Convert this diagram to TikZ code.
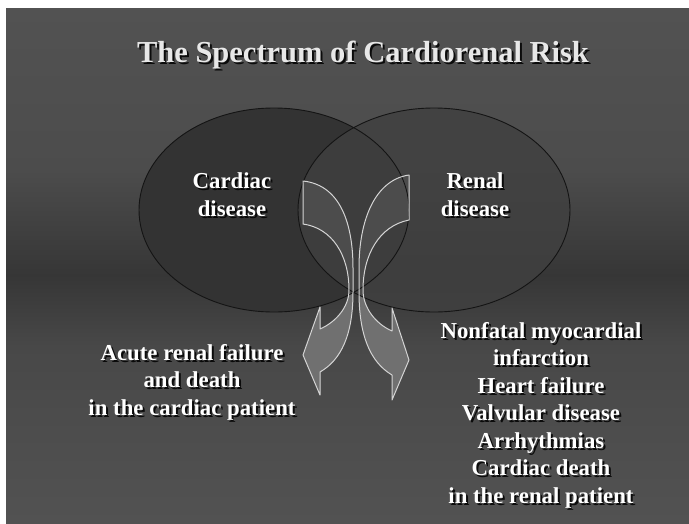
\documentclass[tikz,border=0pt]{standalone}
\usepackage{fontspec}
\setmainfont{Liberation Serif}
\definecolor{bgA}{RGB}{82,82,82}
\definecolor{bgB}{RGB}{76,76,76}
\definecolor{bgC}{RGB}{54,54,54}
\definecolor{bgD}{RGB}{72,72,72}
\definecolor{bgE}{RGB}{82,82,82}
\definecolor{ellL}{RGB}{51,51,51}
\definecolor{ellR}{RGB}{64,64,64}
\definecolor{arrfill}{RGB}{112,112,112}
\definecolor{arrinL}{RGB}{68,68,68}
\definecolor{arrinR}{RGB}{76,76,76}
\definecolor{arredge}{RGB}{212,212,212}
\definecolor{titlegray}{RGB}{232,232,232}
\def\pathL{(303,181) .. controls (341,185) and (353,225) .. (353,268)
  -- (353,292) .. controls (353,335) and (341,360) .. (320,372)
  -- (320,395) -- (303,355) -- (320,307) -- (320,329)
  .. controls (336,322) and (349,307) .. (349,290)
  .. controls (349,255) and (332,228) .. (303,224) -- cycle}
\def\pathR{(409,175) .. controls (375,180) and (359,220) .. (359,268)
  -- (359,292) .. controls (359,335) and (370,362) .. (392,375)
  -- (392,400) -- (409,360) -- (392,308) -- (392,331)
  .. controls (376,324) and (363,308) .. (363,290)
  .. controls (363,255) and (379,226) .. (409,220) -- cycle}
\begin{document}
\begin{tikzpicture}[x=1pt,y=-1pt,
  txt/.style={font=\bfseries\fontsize{22.8}{27.5}\selectfont, align=center, inner sep=0pt, anchor=base, text=white},
  shd/.style={text=black, text opacity=0.85},
  ttl/.style={font=\bfseries\fontsize{30.5}{36}\selectfont, inner sep=0pt, anchor=base, text=titlegray},
  arrline/.style={draw=arredge, line width=1pt, line join=round},
  ellline/.style={draw=black!92, line width=0.9pt}]
\useasboundingbox (0,0) rectangle (689,523);
\fill[white] (0,0) rectangle (689,523);
% background bands
\shade[top color=bgA, bottom color=bgB] (6,8) rectangle (689,171);
\shade[top color=bgB, bottom color=bgC] (6,170) rectangle (689,276);
\shade[top color=bgC, bottom color=bgD] (6,275) rectangle (689,346);
\shade[top color=bgD, bottom color=bgE] (6,345) rectangle (689,523);
% ellipses
\fill[ellL] (274,210) ellipse [x radius=135, y radius=102];
\fill[ellR, fill opacity=0.83] (434,210) ellipse [x radius=136, y radius=102];
% arrows fill
\fill[arrfill] \pathL;
\fill[arrfill] \pathR;
\begin{scope}
  \clip \pathL \pathR;
  \fill[arrinL] (274,210) ellipse [x radius=135, y radius=102];
  \fill[arrinR] (434,210) ellipse [x radius=136, y radius=102];
\end{scope}
% outlines
\draw[ellline] (274,210) ellipse [x radius=135, y radius=102];
\draw[ellline] (434,210) ellipse [x radius=136, y radius=102];
\draw[arrline] \pathL;
\draw[arrline] \pathR;
% title
\node[ttl, shd] (title-s) at (365,64) {The Spectrum of Cardiorenal Risk};
\node[ttl] (title) at (363,62) {The Spectrum of Cardiorenal Risk};
% labels (base anchor = last line baseline)
\node[txt, shd] (cardiac-s) at (234,218) {Cardiac\\disease};
\node[txt] (cardiac) at (232,216) {Cardiac\\disease};
\node[txt, shd] (renal-s) at (477,218) {Renal\\disease};
\node[txt] (renal) at (475,216) {Renal\\disease};
\node[txt, shd] (acute-s) at (194,417) {Acute renal failure\\and death\\in the cardiac patient};
\node[txt] (acute) at (192,415) {Acute renal failure\\and death\\in the cardiac patient};
\node[txt, shd] (list-s) at (543,505) {Nonfatal myocardial\\infarction\\Heart failure\\Valvular disease\\Arrhythmias\\Cardiac death\\in the renal patient};
\node[txt] (list) at (541,503) {Nonfatal myocardial\\infarction\\Heart failure\\Valvular disease\\Arrhythmias\\Cardiac death\\in the renal patient};
\end{tikzpicture}
\end{document}
